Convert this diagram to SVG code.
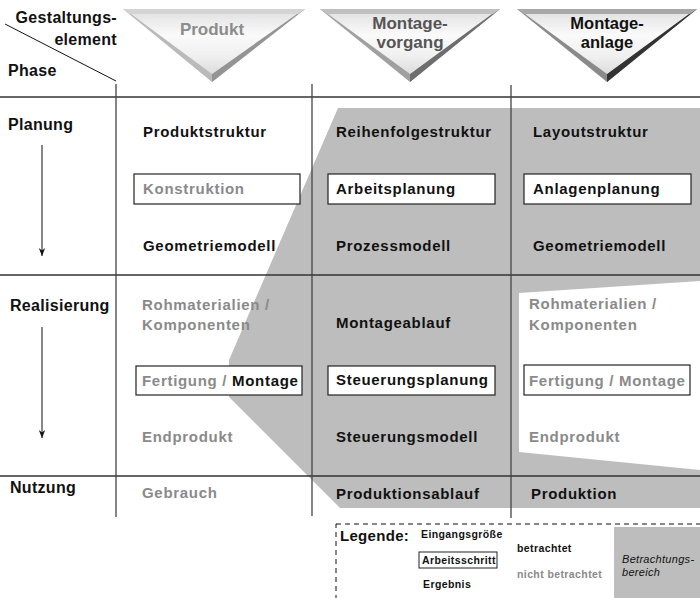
<svg xmlns="http://www.w3.org/2000/svg" width="700" height="598" viewBox="0 0 700 598">
  <defs>
    <linearGradient id="tri-fill" x1="0" y1="0" x2="0" y2="1">
      <stop offset="0" stop-color="#e4e4e4"/>
      <stop offset="0.35" stop-color="#fafafa"/>
      <stop offset="0.7" stop-color="#f0f0f0"/>
      <stop offset="1" stop-color="#dcdcdc"/>
    </linearGradient>
    <marker id="arrow" viewBox="0 0 10 10" refX="10" refY="5" markerWidth="8" markerHeight="8" orient="auto" markerUnits="userSpaceOnUse">
      <path d="M0,1 L10,5 L0,9 L3,5 Z" fill="#111"/>
    </marker>
  </defs>
  <style>
    text { font-family: "Liberation Sans", Arial, sans-serif; font-weight: bold; }
    .t { font-size: 15px; letter-spacing: 0.7px; fill: #111; }
    .g { font-size: 15px; letter-spacing: 0.7px; fill: #8a8a8a; }
    .hdr { font-size: 16px; letter-spacing: 0.3px; fill: #111; }
    .box { fill: #fff; stroke: #222; stroke-width: 1.2; }
    .grid { stroke: #333; stroke-width: 1.3; fill: none; }
    .vgrid { stroke: #444; stroke-width: 1.3; fill: none; }
    .lg { font-size: 10.5px; letter-spacing: 0.4px; fill: #111; }
    .lgg { font-size: 10.5px; letter-spacing: 0.4px; fill: #8a8a8a; }
    .it { font-size: 11px; letter-spacing: 0.3px; fill: #111; font-weight: normal; font-style: italic; }
  </style>

  <rect width="700" height="598" fill="#fff"/>

  <!-- considered area -->
  <g id="area">
    <polygon points="338,108 700,108 700,508 340,508 229,397 229,360" fill="#bdbdbd"/>
    <polygon points="519,293 700,281 700,470 519,452" fill="#fff"/>
  </g>

  <!-- grid -->
  <g id="grid">
    <line class="grid" x1="0" y1="97" x2="700" y2="97"/>
    <line class="grid" x1="0" y1="275" x2="700" y2="275"/>
    <line class="grid" x1="0" y1="476" x2="700" y2="476"/>
    <line class="vgrid" x1="116" y1="84" x2="116" y2="517"/>
    <line class="vgrid" x1="312" y1="84" x2="312" y2="516"/>
    <line class="vgrid" x1="511" y1="85" x2="511" y2="518"/>
    <line stroke="#111" stroke-width="1" x1="5" y1="24" x2="116" y2="81"/>
  </g>

  <!-- header corner -->
  <g id="corner">
    <text class="hdr" x="117" y="23" text-anchor="end">Gestaltungs-</text>
    <text class="hdr" x="117" y="45" text-anchor="end">element</text>
    <text class="hdr" x="8" y="76">Phase</text>
  </g>

  <!-- column headers -->
  <g id="head-produkt">
    <polygon points="123,9 305,9 212,82" fill="#bababa"/>
    <polygon points="305,9 212,82 212,74 296,13" fill="#949494"/>
    <polygon points="123,9 305,9 298,14 130,14" fill="#d4d4d4"/>
    <polygon points="131,14 297,14 212,74" fill="url(#tri-fill)"/>
    <text x="212" y="35" text-anchor="middle" style="font-size:17px;fill:#8c8c8c">Produkt</text>
  </g>
  <g id="head-vorgang">
    <polygon points="320,9 500,9 410,82" fill="#a0a0a0"/>
    <polygon points="500,9 410,82 410,74 491,13" fill="#6e6e6e"/>
    <polygon points="320,9 500,9 493,14 327,14" fill="#c0c0c0"/>
    <polygon points="328,14 492,14 410,74" fill="url(#tri-fill)"/>
    <text x="410" y="29" text-anchor="middle" style="font-size:17px;fill:#555">Montage-</text>
    <text x="410" y="48" text-anchor="middle" style="font-size:17px;fill:#555">vorgang</text>
  </g>
  <g id="head-anlage">
    <polygon points="517,9 697,9 607,82" fill="#8a8a8a"/>
    <polygon points="697,9 607,82 607,74 688,13" fill="#333"/>
    <polygon points="517,9 697,9 690,14 524,14" fill="#a8a8a8"/>
    <polygon points="525,14 689,14 607,74" fill="url(#tri-fill)"/>
    <text x="607" y="29" text-anchor="middle" style="font-size:16.5px;fill:#111">Montage-</text>
    <text x="607" y="48" text-anchor="middle" style="font-size:16.5px;fill:#111">anlage</text>
  </g>

  <!-- phase labels -->
  <g id="phase-planung">
    <text class="hdr" x="8" y="130">Planung</text>
  </g>
  <g id="phase-realisierung">
    <text class="hdr" x="10" y="311">Realisierung</text>
  </g>
  <g id="phase-nutzung">
    <text class="hdr" x="10" y="493">Nutzung</text>
  </g>

  <!-- connectors -->
  <g id="connectors">
    <line x1="42" y1="145" x2="42" y2="256" stroke="#111" stroke-width="1" marker-end="url(#arrow)"/>
    <line x1="42" y1="327" x2="42" y2="438" stroke="#111" stroke-width="1" marker-end="url(#arrow)"/>
  </g>

  <!-- Produkt column -->
  <g id="p-struktur"><text class="t" x="143" y="137">Produktstruktur</text></g>
  <g id="p-konstruktion">
    <rect class="box" x="134" y="174" width="166" height="30"/>
    <text class="g" x="143" y="194">Konstruktion</text>
  </g>
  <g id="p-geometrie"><text class="t" x="143" y="251">Geometriemodell</text></g>
  <g id="p-rohmaterial">
    <text class="g" x="142" y="310">Rohmaterialien /</text>
    <text class="g" x="142" y="330">Komponenten</text>
  </g>
  <g id="p-fertigung">
    <rect class="box" x="136" y="366" width="166" height="29"/>
    <text class="g" x="142" y="386">Fertigung / <tspan style="fill:#111">Montage</tspan></text>
  </g>
  <g id="p-endprodukt"><text class="g" x="142" y="442">Endprodukt</text></g>
  <g id="p-gebrauch"><text class="g" x="142" y="498">Gebrauch</text></g>

  <!-- Montagevorgang column -->
  <g id="v-reihenfolge"><text class="t" x="336" y="137">Reihenfolgestruktur</text></g>
  <g id="v-arbeitsplanung">
    <rect class="box" x="328" y="174" width="167" height="30"/>
    <text class="t" x="336" y="194">Arbeitsplanung</text>
  </g>
  <g id="v-prozess"><text class="t" x="336" y="251">Prozessmodell</text></g>
  <g id="v-ablauf"><text class="t" x="336" y="328">Montageablauf</text></g>
  <g id="v-steuerungsplanung">
    <rect class="box" x="328" y="366" width="167" height="29"/>
    <text class="t" x="336" y="385">Steuerungsplanung</text>
  </g>
  <g id="v-steuerungsmodell"><text class="t" x="336" y="442">Steuerungsmodell</text></g>
  <g id="v-produktionsablauf"><text class="t" x="336" y="499">Produktionsablauf</text></g>

  <!-- Montageanlage column -->
  <g id="a-layout"><text class="t" x="533" y="137">Layoutstruktur</text></g>
  <g id="a-anlagenplanung">
    <rect class="box" x="524" y="174" width="167" height="30"/>
    <text class="t" x="533" y="194">Anlagenplanung</text>
  </g>
  <g id="a-geometrie"><text class="t" x="533" y="251">Geometriemodell</text></g>
  <g id="a-rohmaterial">
    <text class="g" x="529" y="309">Rohmaterialien /</text>
    <text class="g" x="529" y="330">Komponenten</text>
  </g>
  <g id="a-fertigung">
    <rect class="box" x="524" y="365" width="166" height="30"/>
    <text class="g" x="529" y="386">Fertigung / Montage</text>
  </g>
  <g id="a-endprodukt"><text class="g" x="529" y="442">Endprodukt</text></g>
  <g id="a-produktion"><text class="t" x="531" y="499">Produktion</text></g>

  <!-- legend -->
  <g id="legend">
    <rect x="336" y="524" width="372" height="80" fill="none" stroke="#111" stroke-width="1" stroke-dasharray="5,4"/>
    <rect x="614" y="527" width="86" height="71" fill="#bdbdbd"/>
    <text x="340" y="541" style="font-size:15px;letter-spacing:0.3px;fill:#111">Legende:</text>
    <text class="lg" x="421" y="538">Eingangsgröße</text>
    <rect x="419" y="552" width="78" height="16" fill="#fff" stroke="#222" stroke-width="1"/>
    <text class="lg" x="422" y="564">Arbeitsschritt</text>
    <text class="lg" x="423" y="588">Ergebnis</text>
    <text class="lg" x="517" y="552">betrachtet</text>
    <text class="lgg" x="517" y="578">nicht betrachtet</text>
    <text class="it" x="622" y="563">Betrachtungs-</text>
    <text class="it" x="622" y="576">bereich</text>
  </g>
</svg>
